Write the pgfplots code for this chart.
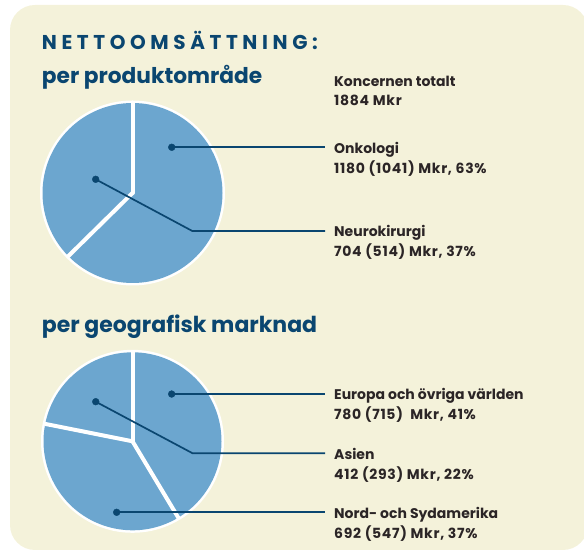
\documentclass[border=0pt]{standalone}
\usepackage{fontspec}
\setmainfont{Poppins}
\newfontfamily\spacedfont{Poppins}[LetterSpace=23]
\newfontfamily\labelfont{Poppins}[Numbers=Monospaced]
\newfontfamily\numfont{Poppins}[Numbers=Monospaced, LetterSpace=5]
\usepackage{pgfplots}
\usepackage{pgfplotstable}
\pgfplotsset{compat=1.18}

\definecolor{cream}{HTML}{F4F2DA}
\definecolor{pieblue}{HTML}{6CA6CF}
\definecolor{navy}{HTML}{0A4670}
\definecolor{txt}{HTML}{2B2526}

% Mkr per segment
\pgfplotstableread{
label value
Onkologi 1180
Neurokirurgi 704
}\produkt
\pgfplotstableread{
label value
Europa 780
Nordamerika 692
Asien 412
}\geografi

\newcommand\slice[3]{% start, sweep (clockwise, negative), radius
  \fill[pieblue] (axis cs:0,0) -- ++(#1:#3) arc[start angle=#1, delta angle=#2, radius=#3] -- cycle;}
\newcommand\sep[2]{%
  \draw[white, line width=4pt, line cap=round] (axis cs:0,0) -- ++(#1:#2);}

\pgfplotsset{pie/.style={
  hide axis, scale only axis, clip=false,
  xmin=-1, xmax=1, ymin=-1, ymax=1,
  anchor=center}}

\begin{document}
\begin{tikzpicture}
\useasboundingbox (0pt,0pt) rectangle (584pt,551pt);
\clip (0pt,0pt) rectangle (584pt,551pt);
\fill[cream, rounded corners=25pt] (10pt,1pt) rectangle (588pt,546pt);

% titles
\node[anchor=base west, inner sep=0pt, text=navy, font=\spacedfont\bfseries\fontsize{20}{22}\selectfont] at (41.7pt,501pt) {NETTOOMSÄTTNING:};
\node[anchor=base west, inner sep=0pt, text=navy, font=\bfseries\fontsize{21.7}{24}\selectfont] at (41.7pt,467pt) {per produktområde};
\node[anchor=base west, inner sep=0pt, text=navy, font=\bfseries\fontsize{22}{24}\selectfont] at (41.7pt,218pt) {per geografisk marknad};

% pie 1
\pgfplotstablegetelem{0}{value}\of\produkt \let\pa\pgfplotsretval
\pgfplotstablegetelem{1}{value}\of\produkt \let\pb\pgfplotsretval
\pgfmathsetmacro\sa{-360*(\pa/(\pa+\pb))}
\pgfmathsetmacro\sb{-360*(\pb/(\pa+\pb))}
\pgfmathsetmacro\ab{90+\sa}
\begin{axis}[pie, width=180pt, height=180pt, at={(132.5pt,358pt)}]
\fill[white] (axis cs:0,0) circle[radius=92.5pt];
\slice{90}{\sa}{90pt}
\slice{\ab}{\sb}{90pt}
\sep{90}{90pt}
\sep{\ab}{90pt}
\addplot[navy, line width=1.7pt] coordinates {(0.436,0.508) (2.139,0.508)};
\addplot[navy, line width=1.7pt] coordinates {(-0.409,0.152) (0.664,-0.422) (2.139,-0.422)};
\addplot[only marks, mark=*, mark size=3.4pt, navy] coordinates {(0.436,0.508) (-0.409,0.152)};
\end{axis}

% pie 2
\pgfplotstablegetelem{0}{value}\of\geografi \let\pa\pgfplotsretval
\pgfplotstablegetelem{1}{value}\of\geografi \let\pb\pgfplotsretval
\pgfplotstablegetelem{2}{value}\of\geografi \let\pc\pgfplotsretval
\pgfmathsetmacro\sa{-360*(\pa/(\pa+\pb+\pc))}
\pgfmathsetmacro\sb{-360*(\pb/(\pa+\pb+\pc))}
\pgfmathsetmacro\sc{-360*(\pc/(\pa+\pb+\pc))}
\pgfmathsetmacro\ab{90+\sa}
\pgfmathsetmacro\ac{90+\sa+\sb}
\begin{axis}[pie, width=178pt, height=178pt, at={(132.5pt,109.7pt)}]
\fill[white] (axis cs:0,0) circle[radius=91.5pt];
\slice{90}{\sa}{89pt}
\slice{\ab}{\sb}{89pt}
\slice{\ac}{\sc}{89pt}
\sep{90}{89pt}
\sep{\ab}{89pt}
\sep{\ac}{89pt}
\addplot[navy, line width=1.7pt] coordinates {(0.440,0.531) (2.163,0.531)};
\addplot[navy, line width=1.7pt] coordinates {(-0.413,0.445) (0.676,-0.135) (2.163,-0.135)};
\addplot[navy, line width=1.7pt] coordinates {(-0.178,-0.798) (2.163,-0.798)};
\addplot[only marks, mark=*, mark size=3.4pt, navy] coordinates {(0.440,0.531) (-0.413,0.445) (-0.178,-0.798)};
\end{axis}

% labels
\begin{scope}[every node/.style={anchor=base west, inner sep=0pt, text=txt, font=\labelfont\bfseries\fontsize{14}{16}\selectfont},
  num/.style={font=\numfont\bfseries\fontsize{14}{16}\selectfont}]
\node at (334pt,464.3pt) {Koncernen totalt};
\node[num] at (334pt,445pt) {1884 Mkr};
\node at (334pt,397.7pt) {Onkologi};
\node[num] at (334pt,377.7pt) {1180 (1041) Mkr, 63\%};
\node at (334pt,314.3pt) {Neurokirurgi};
\node[num] at (334pt,294.3pt) {704 (514) Mkr, 37\%};
\node at (334pt,151pt) {Europa och övriga världen};
\node[num] at (334pt,131.7pt) {780 (715)\ \ Mkr, 41\%};
\node at (334pt,91.7pt) {Asien};
\node[num] at (334pt,71.7pt) {412 (293) Mkr, 22\%};
\node at (334pt,32.3pt) {Nord- och Sydamerika};
\node[num] at (334pt,12.7pt) {692 (547) Mkr, 37\%};
\end{scope}
\end{tikzpicture}
\end{document}
